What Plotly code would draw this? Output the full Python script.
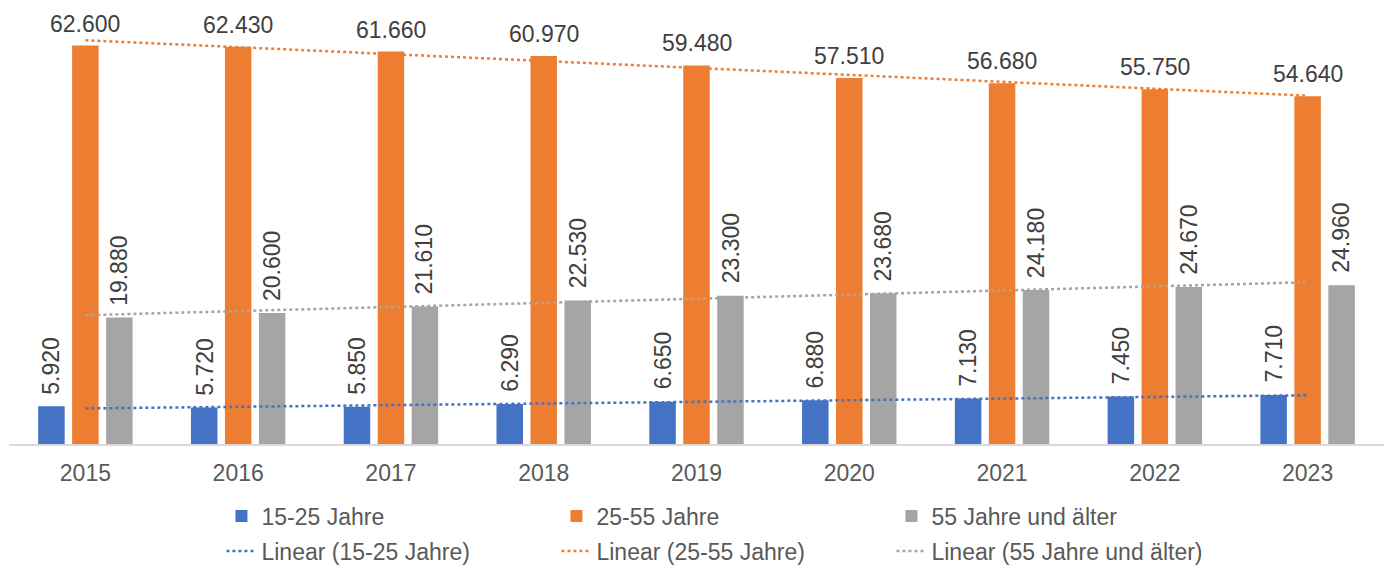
import numpy as np
import plotly.graph_objects as go

# ── Data ──────────────────────────────────────────────────────────────────────
YEARS     = ["2015", "2016", "2017", "2018", "2019", "2020", "2021", "2022", "2023"]
AGE_15_25 = [5920, 5720, 5850, 6290, 6650, 6880, 7130, 7450, 7710]
AGE_25_55 = [62600, 62430, 61660, 60970, 59480, 57510, 56680, 55750, 54640]
AGE_55_UP = [19880, 20600, 21610, 22530, 23300, 23680, 24180, 24670, 24960]

# name, values, colour, label angle, label x offset (px from category centre)
SERIES = [
    ("15-25 Jahre", AGE_15_25, "#4472C4", -90, -34),
    ("25-55 Jahre", AGE_25_55, "#ED7D31", 0, 0),
    ("55 Jahre und älter", AGE_55_UP, "#A5A5A5", -90, 34),
]

FONT = "Arial, Liberation Sans, sans-serif"
LABEL_C = "#404040"
TICK_C = "#595959"
FS = 23


def de_num(v):
    # German thousands separator
    return f"{v:,}".replace(",", ".")


fig = go.Figure()

for name, vals, color, angle, dx in SERIES:
    fig.add_trace(go.Bar(
        x=YEARS, y=vals, name=name,
        marker_color=color, marker_line_width=0,
        legend="legend",
    ))
    # value labels; x is the category index ("2015" would be read as a number)
    for i, v in enumerate(vals):
        fig.add_annotation(
            x=i, y=v, text=de_num(v), showarrow=False,
            textangle=angle, xshift=dx,
            yanchor="bottom", yshift=10 if angle else 7,
            font=dict(size=FS, color=LABEL_C, family=FONT),
        )

# linear trend lines (least squares over the category index, like Excel)
idx = np.arange(1, len(YEARS) + 1)
for name, vals, color, _, _ in SERIES:
    k, d = np.polyfit(idx, vals, 1)
    fig.add_trace(go.Scatter(
        x=YEARS, y=k * idx + d, name=f"Linear ({name})",
        mode="lines", line=dict(color=color, width=2.5, dash="dot"),
        legend="legend2",
    ))

legend_common = dict(
    orientation="h", xanchor="left", yanchor="middle", x=0.1545,
    entrywidth=290, bgcolor="rgba(0,0,0,0)",
    font=dict(size=FS, color=TICK_C, family=FONT),
    traceorder="normal",
)

# the page body keeps its default 8px margin, so the figure sits 8px in;
# the bottom margin is big enough that the legends don't push the plot up
fig.update_layout(
    width=1376, height=565,
    paper_bgcolor="white", plot_bgcolor="white",
    font=dict(family=FONT, color=TICK_C, size=FS),
    margin=dict(l=1, r=0, t=0, b=129),
    barmode="group", bargap=0.333, bargroupgap=0.22,
    showlegend=True,
    legend=dict(y=-0.165, **legend_common),
    legend2=dict(y=-0.2454, **legend_common),
    xaxis=dict(type="category", range=[-0.5, len(YEARS) - 0.5],
               showline=True, linecolor="#D9D9D9",
               linewidth=2, ticks="", showgrid=False, zeroline=False,
               ticklabelstandoff=7,
               tickfont=dict(size=FS, color=TICK_C)),
    yaxis=dict(range=[0, 68500], visible=False, showgrid=False),
)

fig.write_html("out.html")
